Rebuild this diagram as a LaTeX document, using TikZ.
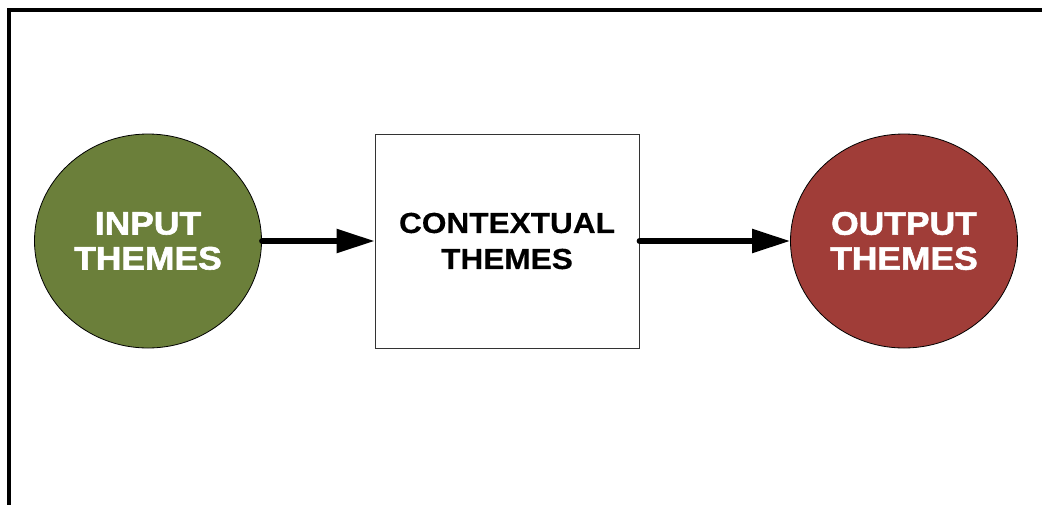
\documentclass[tikz,border=0pt]{standalone}
\usepackage{fontspec}
\usetikzlibrary{shapes.geometric,arrows.meta}
\newfontfamily\headfont[FakeStretch=1.09,FakeBold=1.8]{Liberation Sans Bold}
\newfontfamily\boxfont[FakeStretch=1.09,FakeBold=0.4]{Liberation Sans Bold}
\definecolor{themegreen}{RGB}{107,127,58}
\definecolor{themered}{RGB}{160,61,56}
\tikzset{
  theme/.style={ellipse, draw=black, line width=0.8pt, inner sep=0pt,
    minimum width=227pt, minimum height=214pt, text=white, align=center,
    font=\headfont\fontsize{32.5}{35}\selectfont},
  ctxbox/.style={rectangle, draw=black!80, line width=0.8pt, inner sep=0pt,
    minimum width=264pt, minimum height=214pt, text=black, align=center,
    font=\boxfont\fontsize{29}{36}\selectfont},
  flow/.style={line width=5.5pt, line cap=round,
    -{Triangle[length=38pt,width=23pt]}},
  frame/.style={line width=3.2pt}
}
\begin{document}
\begin{tikzpicture}[x=1pt,y=-1pt]
  \useasboundingbox (0,0) rectangle (1042,504);
  % outer frame (only top and left edges fall inside the page)
  \coordinate (fbl) at (9,520);
  \coordinate (ftl) at (9,10);
  \coordinate (ftr) at (1060,10);
  \draw[frame] (fbl) -- (ftl) -- (ftr);
  % the three themes
  \node[theme, fill=themegreen] (in) at (148,241) {INPUT\\THEMES};
  \node[ctxbox, fill=white] (ctx) at (507,241) {CONTEXTUAL\\THEMES};
  \node[theme, fill=themered] (out) at (904,241) {OUTPUT\\THEMES};
  % flow between them
  \draw[flow] (in.east) -- (ctx.west);
  \draw[flow] (ctx.east) -- (out.west);
\end{tikzpicture}
\end{document}
